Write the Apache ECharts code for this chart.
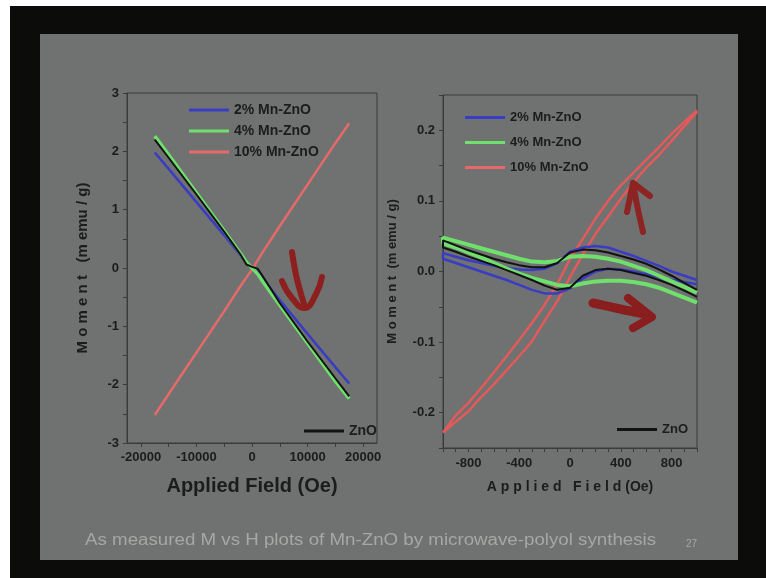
<!DOCTYPE html>
<html>
<head>
<meta charset="utf-8">
<script src="https://cdn.jsdelivr.net/npm/echarts@6/dist/echarts.min.js"></script>
<style>
body { margin: 0; background: #fff; }
#frame { position: absolute; left: 10px; top: 6px; width: 756px; height: 572px; background: #0c0c0a; }
#slide { position: absolute; left: 40px; top: 34px; width: 698px; height: 526px; background: #6f7270; }
#main { position: absolute; left: 0; top: 0; width: 766px; height: 578px; }
</style>
</head>
<body>
<div id="frame"></div>
<div id="slide"></div>
<div id="main"></div>
<script>
// left panel: full field sweep
var fieldL = [-17500, -15000, -10000, -5000, -2000, -1000, 0, 1000, 2000, 5000, 10000, 15000, 17500];
var mn2L = [1.98, 1.70, 1.13, 0.56, 0.21, 0.09, 0.01, -0.07, -0.19, -0.55, -1.13, -1.70, -1.98];
var mn4L = [2.26, 1.94, 1.29, 0.64, 0.24, 0.10, 0.00, -0.10, -0.24, -0.64, -1.29, -1.94, -2.24];
var mn10L = [-2.52, -2.16, -1.45, -0.74, -0.30, -0.16, -0.03, 0.13, 0.28, 0.72, 1.43, 2.14, 2.48];
var znoL = [2.20, 1.89, 1.26, 0.62, 0.22, 0.06, 0.02, -0.01, -0.15, -0.60, -1.26, -1.89, -2.20];

// right panel: low field loops, upper and lower branches
var fieldR = [-1000, -900, -800, -700, -600, -500, -400, -300, -200, -100, 0, 100, 200, 300, 400, 500, 600, 700, 800, 900, 1000];
var mn2Up = [0.026, 0.021, 0.016, 0.012, 0.008, 0.005, 0.003, 0.002, 0.004, 0.012, 0.028, 0.034, 0.036, 0.034, 0.028, 0.022, 0.015, 0.008, 0.000, -0.006, -0.012];
var mn2Down = [0.018, 0.012, 0.006, 0.000, -0.006, -0.012, -0.019, -0.026, -0.031, -0.031, -0.024, -0.010, 0.000, 0.004, 0.003, 0.000, -0.004, -0.008, -0.012, -0.015, -0.018];
var mn4Up = [0.048, 0.043, 0.038, 0.033, 0.028, 0.023, 0.018, 0.014, 0.013, 0.015, 0.021, 0.022, 0.021, 0.018, 0.014, 0.008, 0.002, -0.006, -0.014, -0.022, -0.030];
var mn4Down = [0.040, 0.034, 0.027, 0.020, 0.012, 0.004, -0.003, -0.009, -0.014, -0.019, -0.021, -0.017, -0.014, -0.013, -0.013, -0.015, -0.018, -0.023, -0.030, -0.037, -0.044];
var mn10Up = [-0.228, -0.204, -0.186, -0.165, -0.143, -0.120, -0.097, -0.073, -0.047, -0.018, 0.018, 0.046, 0.075, 0.100, 0.122, 0.140, 0.158, 0.176, 0.195, 0.212, 0.228];
var mn10Down = [-0.228, -0.213, -0.198, -0.178, -0.160, -0.140, -0.120, -0.099, -0.070, -0.042, -0.008, 0.024, 0.053, 0.078, 0.103, 0.126, 0.147, 0.165, 0.185, 0.206, 0.226];
var znoUp = [0.044, 0.037, 0.030, 0.024, 0.018, 0.013, 0.009, 0.006, 0.006, 0.012, 0.027, 0.031, 0.030, 0.027, 0.022, 0.017, 0.011, 0.003, -0.006, -0.016, -0.026];
var znoDown = [0.034, 0.028, 0.021, 0.015, 0.009, 0.002, -0.005, -0.012, -0.020, -0.026, -0.023, -0.006, 0.002, 0.004, 0.002, -0.002, -0.006, -0.012, -0.019, -0.027, -0.036];

var names = ['2% Mn-ZnO', '4% Mn-ZnO', '10% Mn-ZnO', 'ZnO'];
var FONT = 'Liberation Sans';
var ink = '#1b1c1b';
var axisCol = '#3a3c3b';

function pairs(xs, ys) {
    return xs.map(function (x, i) { return [x, ys[i]]; });
}
// sweep from +H down to -H on the upper branch, back up on the lower one
function loop(up, down) {
    return pairs(fieldR, up).reverse().concat(pairs(fieldR, down));
}

var chart = echarts.init(document.getElementById('main'));

var tickLabel = { color: ink, fontWeight: 'bold', fontSize: 13, fontFamily: FONT };
var line = { onZero: false, lineStyle: { color: axisCol } };

chart.setOption({
    backgroundColor: 'transparent',
    animation: false,
    grid: [
        { left: 127, top: 93, width: 250, height: 350, show: true, borderColor: axisCol, borderWidth: 1 },
        { left: 443, top: 95, width: 254, height: 353, show: true, borderColor: axisCol, borderWidth: 1 }
    ],
    legend: [
        { data: names.slice(0, 3), orient: 'vertical', left: 184, top: 98, itemWidth: 40, itemHeight: 3, itemGap: 7, icon: 'rect',
          textStyle: { color: ink, fontWeight: 'bold', fontSize: 14, fontFamily: FONT } },
        { data: ['ZnO'], left: 299, top: 419, itemWidth: 40, itemHeight: 3, icon: 'rect',
          textStyle: { color: ink, fontWeight: 'bold', fontSize: 14, fontFamily: FONT } },
        { data: names.slice(0, 3), orient: 'vertical', left: 460, top: 106, itemWidth: 40, itemHeight: 3, itemGap: 12, icon: 'rect',
          textStyle: { color: ink, fontWeight: 'bold', fontSize: 13, fontFamily: FONT } },
        { data: ['ZnO'], left: 612, top: 418, itemWidth: 40, itemHeight: 3, icon: 'rect',
          textStyle: { color: ink, fontWeight: 'bold', fontSize: 13, fontFamily: FONT } }
    ],
    xAxis: [
        {
            gridIndex: 0, type: 'value', min: -22500, max: 22500,
            name: 'Applied Field (Oe)', nameLocation: 'middle', nameGap: 33,
            nameTextStyle: { color: ink, fontWeight: 'bold', fontSize: 20, fontFamily: FONT },
            axisLine: line,
            axisTick: { customValues: [-20000, -15000, -10000, -5000, 0, 5000, 10000, 15000, 20000], length: 4, lineStyle: { color: axisCol } },
            axisLabel: Object.assign({ customValues: [-20000, -10000, 0, 10000, 20000], margin: 8,
                formatter: function (v) { return String(v); } }, tickLabel),
            splitLine: { show: false }
        },
        {
            gridIndex: 1, type: 'value', min: -1000, max: 1000, interval: 100,
            name: 'A p p l i e d   F i e l d (Oe)', nameLocation: 'middle', nameGap: 32,
            nameTextStyle: { color: ink, fontWeight: 'bold', fontSize: 14, fontFamily: FONT },
            axisLine: line,
            axisTick: { length: 4, lineStyle: { color: axisCol } },
            axisLabel: Object.assign({ interval: 0, margin: 9, showMinLabel: true, showMaxLabel: true,
                formatter: function (v) { return (v % 400 === 0 && Math.abs(v) < 1000) ? String(v) : ''; } }, tickLabel),
            splitLine: { show: false }
        }
    ],
    yAxis: [
        {
            gridIndex: 0, type: 'value', min: -3, max: 3, interval: 0.5,
            name: 'M o m e n t   (m emu / g)', nameLocation: 'middle', nameGap: 37,
            nameTextStyle: { color: ink, fontWeight: 'bold', fontSize: 15, fontFamily: FONT },
            axisLine: Object.assign({ show: true }, line),
            axisTick: { show: true, length: 4, lineStyle: { color: axisCol } },
            axisLabel: Object.assign({ margin: 8,
                formatter: function (v) { return Number.isInteger(v) ? String(v) : ''; } }, tickLabel),
            splitLine: { show: false }
        },
        {
            gridIndex: 1, type: 'value', min: -0.25, max: 0.25, interval: 0.05,
            name: 'M o m e n t  (m emu / g)', nameLocation: 'middle', nameGap: 44,
            nameTextStyle: { color: ink, fontWeight: 'bold', fontSize: 13, fontFamily: FONT },
            axisLine: Object.assign({ show: true }, line),
            axisTick: { show: true, length: 4, lineStyle: { color: axisCol } },
            axisLabel: Object.assign({ margin: 8,
                formatter: function (v) {
                    var t = Math.round(v * 100);
                    return (t % 10 === 0 && Math.abs(t) <= 20) ? (t / 100).toFixed(1) : '';
                } }, tickLabel),
            splitLine: { show: false }
        }
    ],
    series: [
        { name: '10% Mn-ZnO', type: 'line', xAxisIndex: 0, yAxisIndex: 0, symbol: 'none', data: pairs(fieldL, mn10L), lineStyle: { color: '#e56a69', width: 2.5 }, itemStyle: { color: '#e56a69' } },
        { name: '2% Mn-ZnO', type: 'line', xAxisIndex: 0, yAxisIndex: 0, symbol: 'none', data: pairs(fieldL, mn2L), lineStyle: { color: '#3b3cc4', width: 2.5 }, itemStyle: { color: '#3b3cc4' } },
        { name: '4% Mn-ZnO', type: 'line', xAxisIndex: 0, yAxisIndex: 0, symbol: 'none', data: pairs(fieldL, mn4L), lineStyle: { color: '#6fe06c', width: 3.5 }, itemStyle: { color: '#6fe06c' } },
        { name: 'ZnO', type: 'line', xAxisIndex: 0, yAxisIndex: 0, symbol: 'none', data: pairs(fieldL, znoL), lineStyle: { color: '#121212', width: 2 }, itemStyle: { color: '#121212' } },

        { name: '10% Mn-ZnO', type: 'line', xAxisIndex: 1, yAxisIndex: 1, symbol: 'none', data: loop(mn10Up, mn10Down), lineStyle: { color: '#e25a5a', width: 2.5 } },
        { name: '2% Mn-ZnO', type: 'line', xAxisIndex: 1, yAxisIndex: 1, symbol: 'none', data: loop(mn2Up, mn2Down), lineStyle: { color: '#3b3cc4', width: 2.5 } },
        { name: '4% Mn-ZnO', type: 'line', xAxisIndex: 1, yAxisIndex: 1, symbol: 'none', data: loop(mn4Up, mn4Down), lineStyle: { color: '#6fe06c', width: 4 } },
        { name: 'ZnO', type: 'line', xAxisIndex: 1, yAxisIndex: 1, symbol: 'none', data: loop(znoUp, znoDown), lineStyle: { color: '#121212', width: 2 } }
    ],
    graphic: [
        // hand-drawn pen arrows on the slide
        { type: 'polyline', z: 100, shape: { points: [[292, 252], [296, 275], [301, 294], [305, 307]], smooth: 0.4 },
          style: { stroke: '#8e1f1f', lineWidth: 6, lineCap: 'round', fill: null } },
        { type: 'polyline', z: 100, shape: { points: [[282, 281], [292, 298], [305, 308], [316, 294], [322, 277]], smooth: 0.5 },
          style: { stroke: '#8e1f1f', lineWidth: 6, lineCap: 'round', lineJoin: 'round', fill: null } },
        { type: 'polyline', z: 100, shape: { points: [[643, 232], [637, 205], [633, 183]], smooth: 0.3 },
          style: { stroke: '#8e2323', lineWidth: 6, lineCap: 'round', fill: null } },
        { type: 'polyline', z: 100, shape: { points: [[627, 212], [633, 183], [650, 196]] },
          style: { stroke: '#8e2323', lineWidth: 6, lineCap: 'round', lineJoin: 'round', fill: null } },
        { type: 'polyline', z: 100, shape: { points: [[593, 303], [620, 309], [645, 314]], smooth: 0.3 },
          style: { stroke: '#8a1d1d', lineWidth: 9, lineCap: 'round', fill: null } },
        { type: 'polyline', z: 100, shape: { points: [[628, 298], [652, 317], [633, 328]] },
          style: { stroke: '#8a1d1d', lineWidth: 8, lineCap: 'round', lineJoin: 'round', fill: null } },
        // slide caption
        { type: 'text', x: 85, y: 541, scaleX: 1.17, originX: 0, originY: 0,
          style: { text: 'As measured M vs H plots of Mn-ZnO by microwave-polyol synthesis', fill: '#a5a8a5',
                   font: '16px "Liberation Sans"', verticalAlign: 'middle' } },
        { type: 'text', x: 686, y: 544,
          style: { text: '27', fill: '#a5a8a5', font: '10px "Liberation Sans"', verticalAlign: 'middle' } }
    ]
});
</script>
</body>
</html>
